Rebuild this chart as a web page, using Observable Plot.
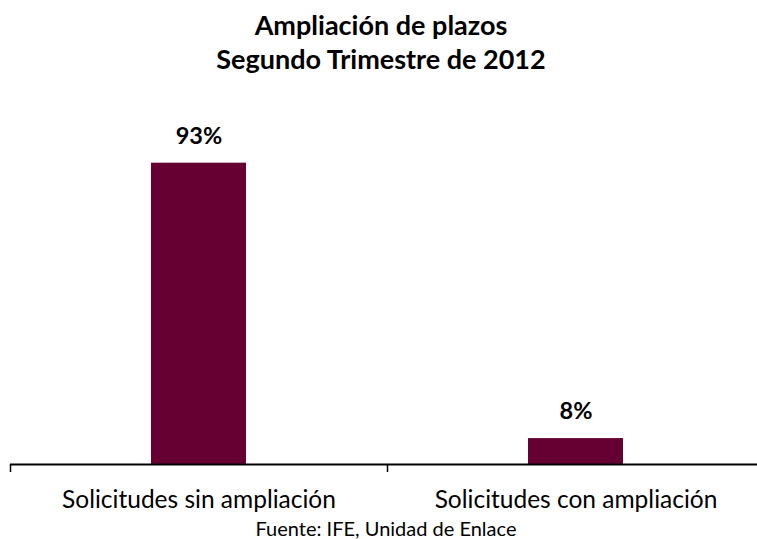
<!DOCTYPE html>
<html>
<head>
<meta charset="utf-8">
<script src="https://cdn.jsdelivr.net/npm/d3@7"></script>
<script src="https://cdn.jsdelivr.net/npm/@observablehq/plot@0.6"></script>
<style>
  html, body { margin: 0; padding: 0; background: #fff; overflow: hidden; width: 757px; height: 539px; }
  #wrap { position: relative; width: 757px; height: 539px; overflow: hidden; font-family: Lato, "Liberation Sans", sans-serif; }
  #title { position: absolute; left: 0; top: 8px; width: 762px; text-align: center; font-weight: bold; font-size: 27px; line-height: 34px; color: #000; }
  #chart { position: absolute; left: 0; top: 90px; width: 764px; }
  #caption { position: absolute; left: 0; top: 516px; width: 772px; text-align: center; font-size: 20px; line-height: 24px; color: #000; }
</style>
</head>
<body>
<div id="wrap">
  <div id="title">Ampliación de plazos<br>Segundo Trimestre de 2012</div>
  <div id="chart"></div>
  <div id="caption">Fuente: IFE, Unidad de Enlace</div>
</div>
<script>
const categories = ["Solicitudes sin ampliación", "Solicitudes con ampliación"];
const values = [93, 8];
const valueLabels = ["93%", "8%"];

const data = categories.map((c, i) => ({category: c, value: values[i], label: valueLabels[i]}));

const chart = Plot.plot({
  width: 764,
  height: 440,
  marginLeft: 10,
  marginRight: 0,
  marginTop: 50,
  marginBottom: 66,
  style: {fontFamily: "Lato, 'Liberation Sans', sans-serif", background: "transparent", maxWidth: "none", overflow: "visible"},
  x: {domain: categories, padding: 0, axis: null},
  y: {domain: [0, 100], axis: null},
  marks: [
    Plot.barY(data, {x: "category", y: "value", fill: "#660033", insetLeft: 141, insetRight: 141}),
    Plot.text(data, {x: "category", y: "value", text: "label", dy: -27, fontSize: 23.5, fontWeight: "bold", fill: "#000"}),
    Plot.axisX({domain: categories, tickSize: 8, tickFormat: null, label: null, dx: -188.5, stroke: "#000", strokeWidth: 1.5}),
    Plot.axisX({tickSize: 0, tickPadding: 26, fontSize: 24.5, label: null, fill: "#000"}),
    Plot.ruleY([0], {stroke: "#000", strokeWidth: 2})
  ]
});
document.getElementById("chart").appendChild(chart);
</script>
</body>
</html>
